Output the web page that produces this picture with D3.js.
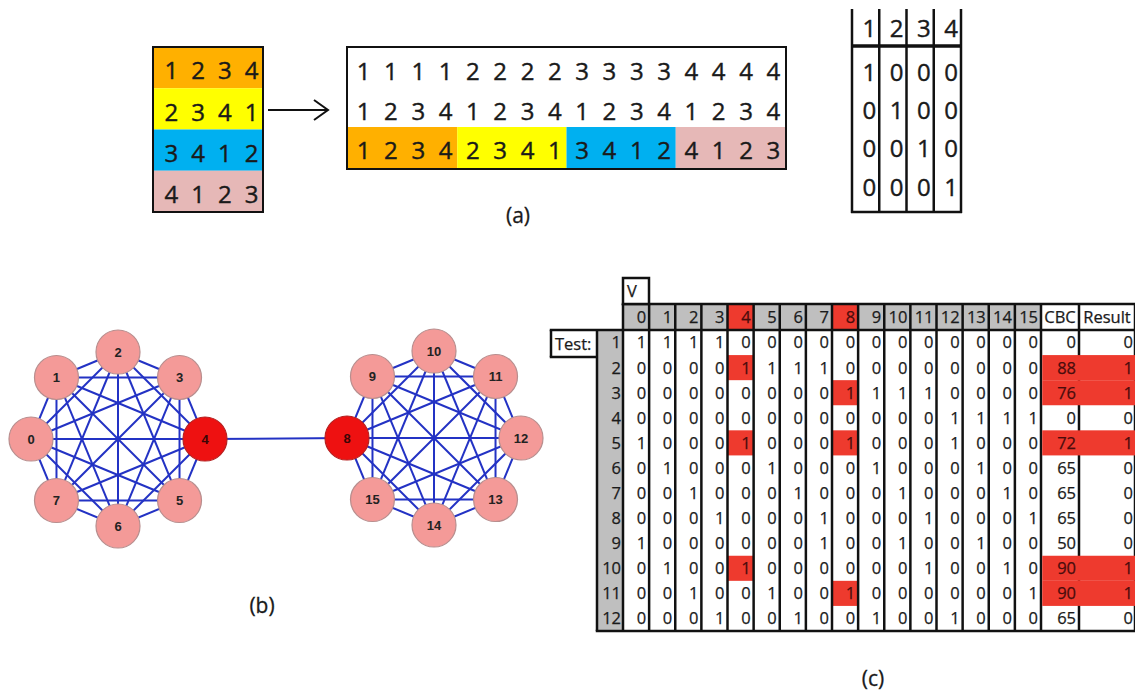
<!DOCTYPE html>
<html><head><meta charset="utf-8">
<script src="https://cdn.jsdelivr.net/npm/d3@7"></script>
<style>body{margin:0;background:#fff}svg{display:block}</style>
</head><body>
<script>
// ---------- panel (a): permutation rows, expansion and identity matrix ----------
const permRows = [[1,2,3,4],[2,3,4,1],[3,4,1,2],[4,1,2,3]];
const permColors = ["#FFB000","#FFFF00","#00B0F0","#E6B8B7"];
const expandFirst  = [1,1,1,1,2,2,2,2,3,3,3,3,4,4,4,4];
const expandSecond = [1,2,3,4,1,2,3,4,1,2,3,4,1,2,3,4];
const expandThird  = [1,2,3,4,2,3,4,1,3,4,1,2,4,1,2,3];
const identityHeader = [1,2,3,4];
const identityRows = [[1,0,0,0],[0,1,0,0],[0,0,1,0],[0,0,0,1]];

// ---------- panel (b): two 8-node cliques joined by one bridge ----------
const clusterLeft  = [0,1,2,3,4,5,6,7];
const clusterRight = [8,9,10,11,12,13,14,15];
const bridgeEdges  = [[4,8]];
const faultyNodes  = [4,8];

// ---------- panel (c): test matrix ----------
const vertexLabels = ["0","1","2","3","4","5","6","7","8","9","10","11","12","13","14","15"];
const testIds = [1,2,3,4,5,6,7,8,9,10,11,12];
const testMatrix = [
  [1,1,1,1,0,0,0,0,0,0,0,0,0,0,0,0],
  [0,0,0,0,1,1,1,1,0,0,0,0,0,0,0,0],
  [0,0,0,0,0,0,0,0,1,1,1,1,0,0,0,0],
  [0,0,0,0,0,0,0,0,0,0,0,0,1,1,1,1],
  [1,0,0,0,1,0,0,0,1,0,0,0,1,0,0,0],
  [0,1,0,0,0,1,0,0,0,1,0,0,0,1,0,0],
  [0,0,1,0,0,0,1,0,0,0,1,0,0,0,1,0],
  [0,0,0,1,0,0,0,1,0,0,0,1,0,0,0,1],
  [1,0,0,0,0,0,0,1,0,0,1,0,0,1,0,0],
  [0,1,0,0,1,0,0,0,0,0,0,1,0,0,1,0],
  [0,0,1,0,0,1,0,0,1,0,0,0,0,0,0,1],
  [0,0,0,1,0,0,1,0,0,1,0,0,1,0,0,0]
];
const cbcValues    = [0,88,76,0,72,65,65,65,50,90,90,65];
const resultValues = [0,1,1,0,1,0,0,0,0,1,1,0];

const W = 1135, H = 695;
const FONT = "'Open Sans', Lato, sans-serif";
const RED = "#EE3A2E";
const GREY = "#BFBFBF";
const INK = "#1a1a1a";
const RED_INK = "#4a0c0c";

const svg = d3.select("body").append("svg").attr("width", W).attr("height", H)
  .style("font-family", FONT);

// slightly heavier glyphs for the spreadsheet-style digits
function ink(sel, colour, w) {
  return sel.attr("fill", colour).attr("stroke", colour).attr("stroke-width", w)
    .attr("paint-order", "stroke");
}

// ================= panel (a) =================
const gA = svg.append("g");

// left block of permutation rows
const xL = d3.scaleBand().domain(d3.range(4)).range([153, 263]);
const xLt = d3.scaleBand().domain(d3.range(4)).range([158, 265]);
const yL = d3.scaleBand().domain(d3.range(4)).range([47, 212]);
gA.selectAll("rect.perm").data(permRows).join("rect")
  .attr("x", xL.range()[0]).attr("width", xL.range()[1] - xL.range()[0])
  .attr("y", (d, i) => yL(i)).attr("height", yL.bandwidth())
  .attr("fill", (d, i) => permColors[i]);
permRows.forEach((row, i) => {
  ink(gA.selectAll(null).data(row).join("text")
    .attr("x", (d, j) => xLt(j) + xLt.bandwidth() / 2)
    .attr("y", yL(i) + yL.bandwidth() / 2 + 3)
    .attr("dy", "0.36em").attr("text-anchor", "middle")
    .attr("font-size", 24), INK, 0.4).text(d => d);
});
gA.append("rect").attr("x", 153).attr("y", 47).attr("width", 110).attr("height", 165)
  .attr("fill", "none").attr("stroke", "#111").attr("stroke-width", 2);

// arrow
gA.append("line").attr("x1", 268).attr("x2", 327).attr("y1", 110).attr("y2", 110)
  .attr("stroke", "#111").attr("stroke-width", 2);
gA.append("path").attr("d", "M314,100 L328,110 L314,120")
  .attr("fill", "none").attr("stroke", "#111").attr("stroke-width", 2);

// expanded block
const xM = d3.scaleBand().domain(d3.range(16)).range([348, 785]);
const xMt = d3.scaleBand().domain(d3.range(16)).range([350, 787]);
const yM = d3.scaleBand().domain([0, 1, 2]).range([50, 168]);
d3.range(4).forEach(k => {
  gA.append("rect").attr("x", xM(k * 4)).attr("width", xM.step() * 4)
    .attr("y", 127).attr("height", 41).attr("fill", permColors[k]);
});
[expandFirst, expandSecond, expandThird].forEach((row, i) => {
  ink(gA.selectAll(null).data(row).join("text")
    .attr("x", (d, j) => xMt(j) + xMt.bandwidth() / 2)
    .attr("y", yM(i) + yM.bandwidth() / 2 + 2)
    .attr("dy", "0.36em").attr("text-anchor", "middle")
    .attr("font-size", 24), INK, 0.4).text(d => d);
});
gA.append("rect").attr("x", 347).attr("y", 47).attr("width", 439).attr("height", 122)
  .attr("fill", "none").attr("stroke", "#111").attr("stroke-width", 2);

// identity matrix
const xR = d3.scaleBand().domain(d3.range(4)).range([852, 961]);
const yR = d3.scaleBand().domain(d3.range(4)).range([53, 206]);
ink(gA.selectAll(null).data(identityHeader).join("text")
  .attr("x", (d, j) => xR(j) + xR.bandwidth() - 3).attr("y", 28)
  .attr("dy", "0.36em").attr("text-anchor", "end")
  .attr("font-size", 24), INK, 0.4).text(d => d);
identityRows.forEach((row, i) => {
  ink(gA.selectAll(null).data(row).join("text")
    .attr("x", (d, j) => xR(j) + xR.bandwidth() - 3)
    .attr("y", yR(i) + yR.bandwidth() / 2)
    .attr("dy", "0.36em").attr("text-anchor", "end")
    .attr("font-size", 24), INK, 0.4).text(d => d);
});
d3.range(5).forEach(j => {
  const x = j < 4 ? xR(j) : xR(3) + xR.bandwidth();
  gA.append("line").attr("x1", x).attr("x2", x).attr("y1", 9).attr("y2", 213)
    .attr("stroke", "#111").attr("stroke-width", 2.5);
});
gA.append("line").attr("x1", 851).attr("x2", 962).attr("y1", 46).attr("y2", 46)
  .attr("stroke", "#111").attr("stroke-width", 3.5);
gA.append("line").attr("x1", 851).attr("x2", 962).attr("y1", 212).attr("y2", 212)
  .attr("stroke", "#111").attr("stroke-width", 2.5);

ink(gA.append("text").attr("x", 518).attr("y", 215).attr("dy", "0.36em")
  .attr("text-anchor", "middle").attr("font-size", 21), INK, 0.3).text("(a)");

// ================= panel (b) =================
const gB = svg.append("g");
const R = 87, NODE_R = 22;
const angle = d3.scaleLinear().domain([0, 8]).range([Math.PI, 3 * Math.PI]);
const centres = [{cx: 118, cy: 439, ids: clusterLeft}, {cx: 434, cy: 438, ids: clusterRight}];
const pos = {};
centres.forEach(c => c.ids.forEach((id, k) => {
  pos[id] = {x: c.cx + R * Math.cos(angle(k)), y: c.cy + R * Math.sin(angle(k))};
}));
const edges = [];
centres.forEach(c => {
  c.ids.forEach((a, i) => c.ids.slice(i + 1).forEach(b => edges.push([a, b])));
});
bridgeEdges.forEach(e => edges.push(e));
gB.selectAll("line").data(edges).join("line")
  .attr("x1", d => pos[d[0]].x).attr("y1", d => pos[d[0]].y)
  .attr("x2", d => pos[d[1]].x).attr("y2", d => pos[d[1]].y)
  .attr("stroke", "#2332C4").attr("stroke-width", 2);
const allNodes = clusterLeft.concat(clusterRight);
gB.selectAll("circle").data(allNodes).join("circle")
  .attr("cx", d => pos[d].x).attr("cy", d => pos[d].y).attr("r", NODE_R)
  .attr("fill", d => faultyNodes.includes(d) ? "#EE1111" : "#F49A98")
  .attr("stroke", d => faultyNodes.includes(d) ? "#B52020" : "#B88E8E")
  .attr("stroke-width", 1.2);
gB.selectAll("text").data(allNodes).join("text")
  .attr("x", d => pos[d].x).attr("y", d => pos[d].y).attr("dy", "0.36em")
  .attr("text-anchor", "middle").attr("font-family", "'Liberation Sans', Arial, sans-serif")
  .attr("font-weight", "bold").attr("font-size", 13)
  .attr("fill", d => faultyNodes.includes(d) ? "#3a0505" : "#222").text(d => d);

ink(svg.append("text").attr("x", 262).attr("y", 605).attr("dy", "0.36em")
  .attr("text-anchor", "middle").attr("font-size", 21), INK, 0.3).text("(b)");

// ================= panel (c) =================
const gC = svg.append("g").attr("font-size", 16.5);
const xC = d3.scaleBand().domain(d3.range(16)).range([623, 1041]);
const yC = d3.scaleBand().domain(testIds).range([330, 631]);
const cbcL = 1041, resL = 1079, tabR = 1135;
const headTop = 304, headBot = 330;

// header cells
gC.selectAll("rect.head").data(vertexLabels).join("rect")
  .attr("x", (d, j) => xC(j)).attr("width", xC.bandwidth())
  .attr("y", headTop).attr("height", headBot - headTop)
  .attr("fill", (d, j) => faultyNodes.includes(j) ? RED : GREY);
// row-header column
gC.append("rect").attr("x", 597).attr("width", 26).attr("y", headBot).attr("height", 631 - headBot)
  .attr("fill", GREY);

// highlighted data cells (faulty vertex columns)
testMatrix.forEach((row, i) => {
  gC.selectAll(null).data(row.map((v, j) => ({v, j})).filter(c => c.v === 1 && faultyNodes.includes(c.j)))
    .join("rect")
    .attr("x", c => xC(c.j)).attr("width", xC.bandwidth())
    .attr("y", yC(testIds[i])).attr("height", yC.bandwidth()).attr("fill", RED);
});

// vertical borders
const vx = d3.range(17).map(j => j < 16 ? xC(j) : cbcL).concat([resL, tabR]);
gC.selectAll("line.v").data(vx).join("line")
  .attr("x1", d => d).attr("x2", d => d).attr("y1", headTop).attr("y2", 631)
  .attr("stroke", "#111").attr("stroke-width", 2.5);
gC.append("line").attr("x1", 597).attr("x2", 597).attr("y1", headBot).attr("y2", 631)
  .attr("stroke", "#111").attr("stroke-width", 2.5);

// CBC / Result highlighted rows (drawn across their shared border)
resultValues.forEach((r, i) => {
  if (r === 1) gC.append("rect").attr("x", cbcL + 1.25).attr("width", tabR - cbcL)
    .attr("y", yC(testIds[i])).attr("height", yC.bandwidth()).attr("fill", RED);
});

// horizontal borders
[[623, tabR, headTop], [551, tabR, headBot], [597, tabR, 631], [551, 597, 357]].forEach(([a, b, y]) =>
  gC.append("line").attr("x1", a - 1.25).attr("x2", b).attr("y1", y).attr("y2", y)
    .attr("stroke", "#111").attr("stroke-width", 2.5));
gC.append("line").attr("x1", 551).attr("x2", 551).attr("y1", headBot).attr("y2", 357)
  .attr("stroke", "#111").attr("stroke-width", 2.5);
// V box
gC.append("rect").attr("x", 623).attr("y", 278).attr("width", 26).attr("height", 26)
  .attr("fill", "#fff").attr("stroke", "#111").attr("stroke-width", 2.5);

// header text
gC.selectAll("text.head").data(vertexLabels).join("text")
  .attr("x", (d, j) => xC(j) + xC.bandwidth() - 3).attr("y", (headTop + headBot) / 2)
  .attr("dy", "0.36em").attr("text-anchor", "end")
  .each(function (d, j) { ink(d3.select(this), faultyNodes.includes(j) ? RED_INK : INK, 0.25); })
  .text(d => d);
ink(gC.append("text").attr("x", (cbcL + resL) / 2).attr("y", (headTop + headBot) / 2)
  .attr("dy", "0.36em").attr("text-anchor", "middle"), INK, 0.25).text("CBC");
ink(gC.append("text").attr("x", (resL + tabR) / 2).attr("y", (headTop + headBot) / 2)
  .attr("dy", "0.36em").attr("text-anchor", "middle"), INK, 0.25).text("Result");
ink(gC.append("text").attr("x", 627).attr("y", 291).attr("dy", "0.36em"), INK, 0.25).text("V");
ink(gC.append("text").attr("x", 555).attr("y", 344).attr("dy", "0.36em"), INK, 0.25).text("Test:");

// row numbers and values
testIds.forEach((id, i) => {
  const cy = yC(id) + yC.bandwidth() / 2;
  ink(gC.append("text").attr("x", 621).attr("y", cy).attr("dy", "0.36em")
    .attr("text-anchor", "end"), INK, 0.25).text(id);
  gC.selectAll(null).data(testMatrix[i]).join("text")
    .attr("x", (d, j) => xC(j) + xC.bandwidth() - 3).attr("y", cy).attr("dy", "0.36em")
    .attr("text-anchor", "end")
    .each(function (d, j) { ink(d3.select(this), d === 1 && faultyNodes.includes(j) ? RED_INK : INK, 0.25); })
    .text(d => d);
  const hot = resultValues[i] === 1;
  ink(gC.append("text").attr("x", resL - 3).attr("y", cy).attr("dy", "0.36em")
    .attr("text-anchor", "end"), hot ? RED_INK : INK, 0.25).text(cbcValues[i]);
  ink(gC.append("text").attr("x", tabR - 2).attr("y", cy).attr("dy", "0.36em")
    .attr("text-anchor", "end"), hot ? RED_INK : INK, 0.25).text(resultValues[i]);
});

ink(svg.append("text").attr("x", 873).attr("y", 678).attr("dy", "0.36em")
  .attr("text-anchor", "middle").attr("font-size", 21), INK, 0.3).text("(c)");
</script>
</body></html>
